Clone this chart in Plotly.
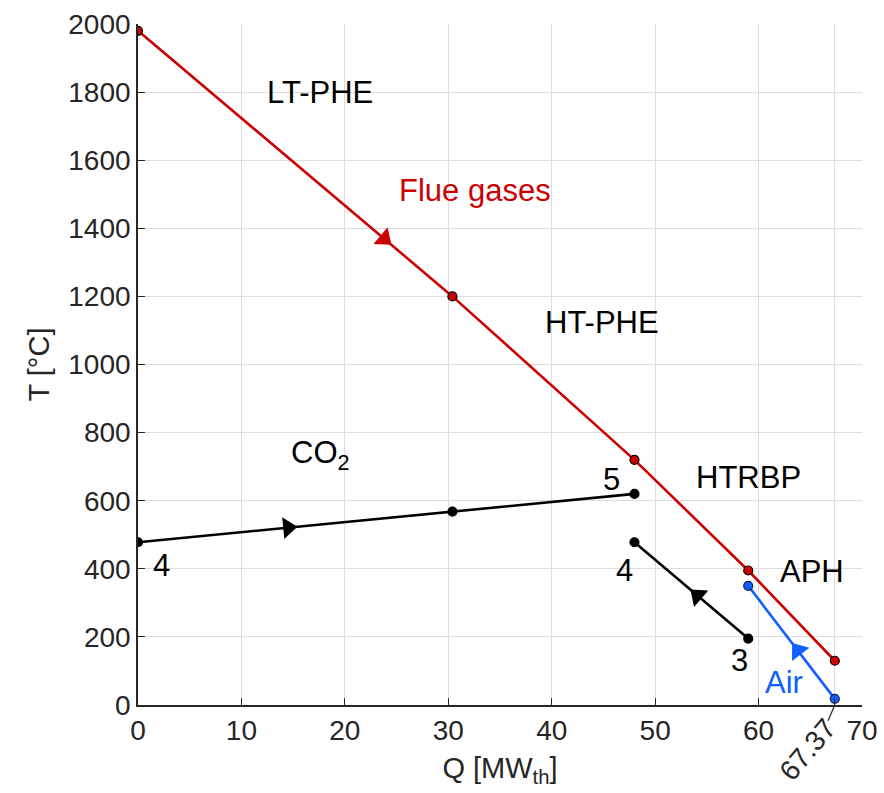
import math
import plotly.graph_objects as go

# ---------------- data ----------------
flue_Q = [0.0, 30.4, 48.0, 59.0, 67.37]
flue_T = [1980, 1200, 720, 395, 130]

co2_hot_Q = [0.0, 30.4, 48.0]
co2_hot_T = [478, 568, 620]

co2_rec_Q = [48.0, 59.0]
co2_rec_T = [478, 195]

air_Q = [59.0, 67.37]
air_T = [350, 18]

# arrow positions (Q) along each stream
arrow_flue_Q = 23.8
arrow_co2_Q = 14.5
arrow_rec_Q = 54.1
arrow_air_Q = 63.8

x_ticks = [0, 10, 20, 30, 40, 50, 60, 70]
y_ticks = list(range(0, 2001, 200))
special_tick = 67.37

labels = [
    ("LT-PHE", 17.6, 1800, "black"),
    ("Flue gases", 32.6, 1512, "#CC0000"),
    ("HT-PHE", 44.9, 1122, "black"),
    ("CO<sub>2</sub>", 17.6, 734, "black"),
    ("HTRBP", 59.0, 667, "black"),
    ("5", 45.8, 661, "black"),
    ("4", 2.3, 411, "black"),
    ("4", 47.0, 396, "black"),
    ("3", 58.2, 132, "black"),
    ("APH", 65.2, 391, "black"),
    ("Air", 62.5, 65, "#0F5FFF"),
]

# ---------------- layout constants ----------------
W, H = 884, 793
ML, MR, MT, MB = 138, 22, 24, 88
XR = [0, 70]
YR = [0, 2000]
sx = (W - ML - MR) / (XR[1] - XR[0])
sy = (H - MT - MB) / (YR[1] - YR[0])

RED = "#CC0000"
BLUE = "#0F5FFF"
BLACK = "black"
GREY = "#262626"
FONT = "Liberation Sans, Arial, Helvetica, sans-serif"


def interp(qs, ts, q):
    for i in range(len(qs) - 1):
        if qs[i] <= q <= qs[i + 1] or qs[i] >= q >= qs[i + 1]:
            f = (q - qs[i]) / (qs[i + 1] - qs[i])
            return ts[i] + f * (ts[i + 1] - ts[i]), i
    return ts[-1], len(qs) - 2


def arrow(qs, ts, q, reverse=False):
    t, i = interp(qs, ts, q)
    dq = qs[i + 1] - qs[i]
    dt = ts[i + 1] - ts[i]
    if reverse:
        dq, dt = -dq, -dt
    ang = math.degrees(math.atan2(dq * sx, dt * sy))
    return q, t, ang


fig = go.Figure()


def stream(qs, ts, color, mcolor, mline):
    fig.add_trace(go.Scatter(
        x=qs, y=ts, mode="lines+markers",
        line=dict(color=color, width=2.6),
        marker=dict(size=9, color=mcolor, line=dict(color=mline, width=1.2)),
        showlegend=False, hoverinfo="skip"))


def add_arrow(qs, ts, q, color, reverse=False):
    x, y, a = arrow(qs, ts, q, reverse)
    fig.add_trace(go.Scatter(
        x=[x], y=[y], mode="markers",
        marker=dict(symbol="triangle-up", size=19, angle=a, color=color,
                    line=dict(width=0)),
        showlegend=False, hoverinfo="skip"))


stream(flue_Q, flue_T, RED, RED, BLACK)
stream(co2_hot_Q, co2_hot_T, BLACK, BLACK, BLACK)
stream(co2_rec_Q, co2_rec_T, BLACK, BLACK, BLACK)
stream(air_Q, air_T, BLUE, BLUE, "#102040")

add_arrow(flue_Q, flue_T, arrow_flue_Q, RED)
add_arrow(co2_hot_Q, co2_hot_T, arrow_co2_Q, BLACK)
add_arrow(co2_rec_Q, co2_rec_T, arrow_rec_Q, BLACK, reverse=True)
add_arrow(air_Q, air_T, arrow_air_Q, BLUE, reverse=True)

for txt, q, t, c in labels:
    fig.add_annotation(x=q, y=t, text=txt, showarrow=False,
                       font=dict(size=31, color=c, family=FONT),
                       xanchor="center", yanchor="middle")

# special rotated tick label 67.37 with a leader line
fig.add_shape(type="line", xref="x", yref="paper",
              x0=special_tick, y0=0, x1=special_tick - 0.65, y1=-0.023,
              line=dict(color=GREY, width=1.2))
fig.add_annotation(x=special_tick - 2.6, y=-0.066, xref="x", yref="paper",
                   text=f"{special_tick:.2f}", showarrow=False, textangle=-50,
                   font=dict(size=28, color=GREY, family=FONT),
                   xanchor="center", yanchor="middle")

tickvals_x = x_ticks + [special_tick]
ticktext_x = [str(v) for v in x_ticks] + [" "]

axis_common = dict(
    showgrid=True, gridcolor="#DDDDDD", gridwidth=1,
    showline=True, linecolor=GREY, linewidth=1.6,
    ticks="inside", ticklen=7, tickwidth=1.4, tickcolor=GREY,
    tickfont=dict(size=28, color=GREY, family=FONT),
    zeroline=False, mirror=False,
)

fig.update_xaxes(range=XR, tickvals=tickvals_x, ticktext=ticktext_x,
                 title=dict(text="Q [MW<sub>th</sub>]", standoff=12,
                            font=dict(size=29, color=GREY, family=FONT)),
                 **axis_common)
fig.update_yaxes(range=YR, tickvals=y_ticks,
                 title=dict(text="T [°C]", standoff=10,
                            font=dict(size=29, color=GREY, family=FONT)),
                 **axis_common)

fig.update_layout(
    width=W, height=H,
    margin=dict(l=ML, r=MR, t=MT, b=MB, autoexpand=False),
    plot_bgcolor="white", paper_bgcolor="white",
    font=dict(family=FONT),
)

fig.write_html("out.html")
